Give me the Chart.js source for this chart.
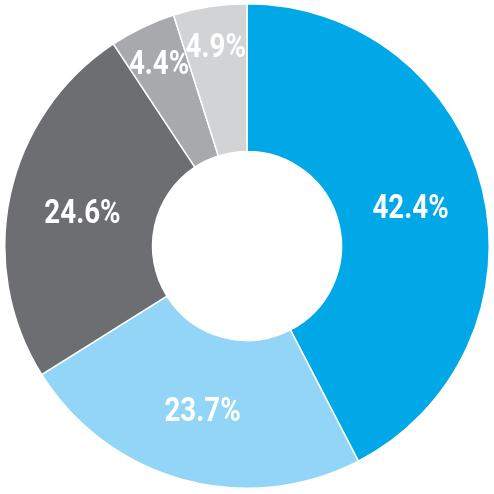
<!DOCTYPE html>
<html>
<head>
<meta charset="utf-8">
<script src="https://cdn.jsdelivr.net/npm/chart.js@4"></script>
<style>
    html, body { margin: 0; padding: 0; background: #fff; }
    #wrap { width: 494px; height: 494px; }
</style>
</head>
<body>
<div id="wrap"><canvas id="donut"></canvas></div>
<script>
// Share values (%), clockwise from 12 o'clock
const segments = ['A', 'B', 'C', 'D', 'E'];
const shares = [42.4, 23.7, 24.6, 4.4, 4.9];
const colors = ['#00a8e7', '#93d5f6', '#6d6e71', '#a7a9ac', '#d1d3d4'];

// Draw the percent labels inside each slice
const sliceLabels = {
    id: 'sliceLabels',
    afterDatasetsDraw(chart) {
        const ctx = chart.ctx;
        const meta = chart.getDatasetMeta(0);
        ctx.save();
        ctx.fillStyle = '#ffffff';
        ctx.textAlign = 'center';
        ctx.textBaseline = 'middle';
        ctx.font = "bold 33px Roboto, 'DejaVu Sans', sans-serif";
        meta.data.forEach((arc, i) => {
            const p = arc.getProps(['x', 'y', 'startAngle', 'endAngle', 'innerRadius', 'outerRadius'], true);
            const mid = (p.startAngle + p.endAngle) / 2;
            // small slices get pushed toward the rim
            const r = shares[i] < 10
                ? p.innerRadius + (p.outerRadius - p.innerRadius) * 0.74
                : (p.innerRadius + p.outerRadius) / 2;
            const x = p.x + Math.cos(mid) * r;
            const y = p.y + Math.sin(mid) * r;
            ctx.save();
            ctx.translate(x, y + 3);
            ctx.scale(0.84, 1);
            ctx.fillText(shares[i].toFixed(1) + '%', 0, 1);
            ctx.restore();
        });
        ctx.restore();
    }
};

new Chart(document.getElementById('donut'), {
    type: 'doughnut',
    data: {
        labels: segments,
        datasets: [{
            data: shares,
            backgroundColor: colors,
            borderColor: '#ffffff',
            borderWidth: 1.5
        }]
    },
    options: {
        responsive: true,
        maintainAspectRatio: false,
        animation: false,
        cutout: '39%',
        layout: { padding: { top: 3, bottom: 5, left: 4, right: 4 } },
        plugins: {
            legend: { display: false },
            tooltip: { enabled: false }
        }
    },
    plugins: [sliceLabels]
});
</script>
</body>
</html>
